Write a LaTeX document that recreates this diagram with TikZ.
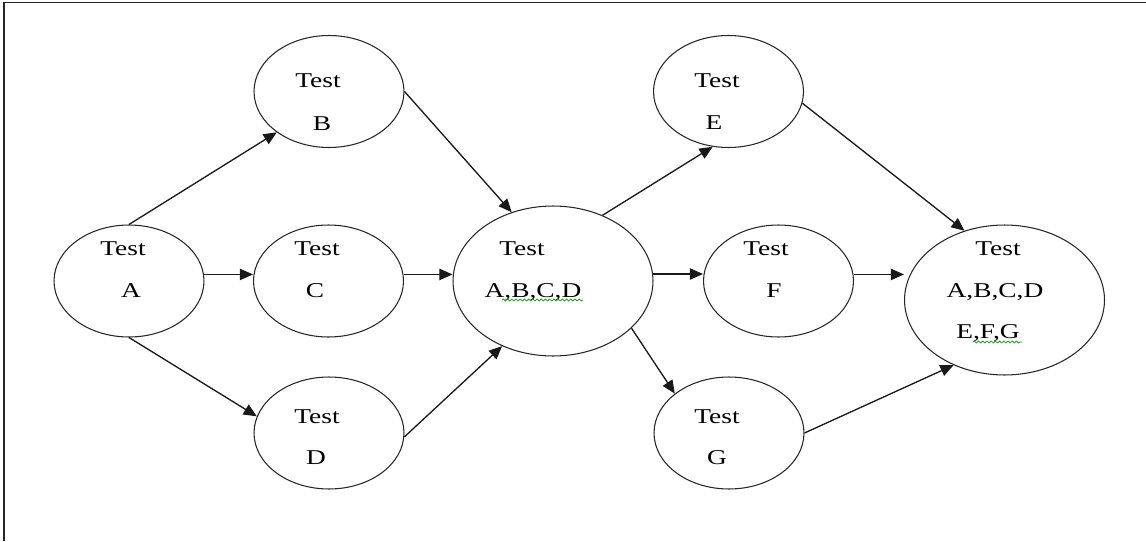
\documentclass[tikz,border=0pt]{standalone}
\usepackage{fontspec}
\setmainfont{Liberation Serif}
\usetikzlibrary{shapes.geometric,arrows.meta,decorations.pathmorphing}
\newcommand{\stretchtxt}[1]{\scalebox{1.3}[1]{#1}}
\begin{document}
\begin{tikzpicture}[x=0.02cm,y=-0.02cm,
  ell/.style={draw=black!85,line width=0.6pt,ellipse,inner sep=0pt,minimum width=3cm,minimum height=2.24cm},
  bigell/.style={ell,minimum width=4cm,minimum height=3cm},
  lbl/.style={anchor=base,inner sep=0pt,font=\fontsize{12}{14}\selectfont},
  arr/.style={draw=black!90,line width=0.75pt,-{Triangle[length=7.5pt,width=6.5pt]}},
  frameline/.style={draw=black!85,line width=1pt},
  squig/.style={draw=green!60!black,line width=0.4pt,decorate,decoration={snake,amplitude=0.55pt,segment length=2.4pt}}
]
\useasboundingbox (0,0) rectangle (1146,541);
% frame (top and left edges visible)
\coordinate (f1) at (4,541);
\coordinate (f2) at (4,2.5);
\coordinate (f3) at (1146,2.5);
\draw[frameline] (f1) -- (f2) -- (f3);

% ellipses
\node[ell] (A) at (129,281) {};
\node[ell] (B) at (329,91.5) {};
\node[ell] (C) at (328.5,281) {};
\node[ell] (D) at (329,433) {};
\node[bigell] (X) at (553,281) {};
\node[ell] (E) at (728.5,91.5) {};
\node[ell] (F) at (778.5,281) {};
\node[ell] (G) at (729,433) {};
\node[bigell] (Z) at (1004.5,300) {};

% labels
\node[lbl] (A1) at (123,255) {\stretchtxt{Test}};
\node[lbl] (A2) at (131,297) {\stretchtxt{A}};
\node[lbl] (B1) at (318,87) {\stretchtxt{Test}};
\node[lbl] (B2) at (322,130) {\stretchtxt{B}};
\node[lbl] (C1) at (317,255) {\stretchtxt{Test}};
\node[lbl] (C2) at (315,297) {\stretchtxt{C}};
\node[lbl] (D1) at (317,423) {\stretchtxt{Test}};
\node[lbl] (D2) at (316,464) {\stretchtxt{D}};
\node[lbl] (X1) at (522,255) {\stretchtxt{Test}};
\node[lbl] (X2) at (533,297) {\stretchtxt{A,B,C,D}};
\node[lbl] (E1) at (717,87) {\stretchtxt{Test}};
\node[lbl] (E2) at (714,129) {\stretchtxt{E}};
\node[lbl] (F1) at (766,255) {\stretchtxt{Test}};
\node[lbl] (F2) at (774,297) {\stretchtxt{F}};
\node[lbl] (G1) at (717,423) {\stretchtxt{Test}};
\node[lbl] (G2) at (717,464) {\stretchtxt{G}};
\node[lbl] (Z1) at (998,255) {\stretchtxt{Test}};
\node[lbl] (Z2) at (995,297) {\stretchtxt{A,B,C,D}};
\node[lbl] (Z3) at (988,338) {\stretchtxt{E,F,G}};

% spell-check squiggles
\coordinate (s1a) at (502,300);
\coordinate (s1b) at (583,300);
\draw[squig] (s1a) -- (s1b);
\coordinate (s2a) at (973,342);
\coordinate (s2b) at (1022,342);
\draw[squig] (s2a) -- (s2b);

% connectors
\draw[arr] (A.90) -- (B.218);
\draw[arr] (A.5) -- (A.5 -| C.west);
\draw[arr] (A.270) -- (D.167);
\draw[arr] (B.0) -- (X.121);
\draw[arr] (C.5) -- (C.5 -| X.west);
\draw[arr] (D.-3) -- (X.232);
\draw[arr] (X.53) -- (E.254);
\draw[arr] (X.4) -- (X.4 -| F.west);
\draw[arr] (X.-31) -- (G.144);
\draw[arr] (E.-9) -- (Z.120);
\draw[arr] (F.5) -- (F.5 -| Z.west);
\draw[arr] (G.0) -- (Z.232);
\end{tikzpicture}
\end{document}
